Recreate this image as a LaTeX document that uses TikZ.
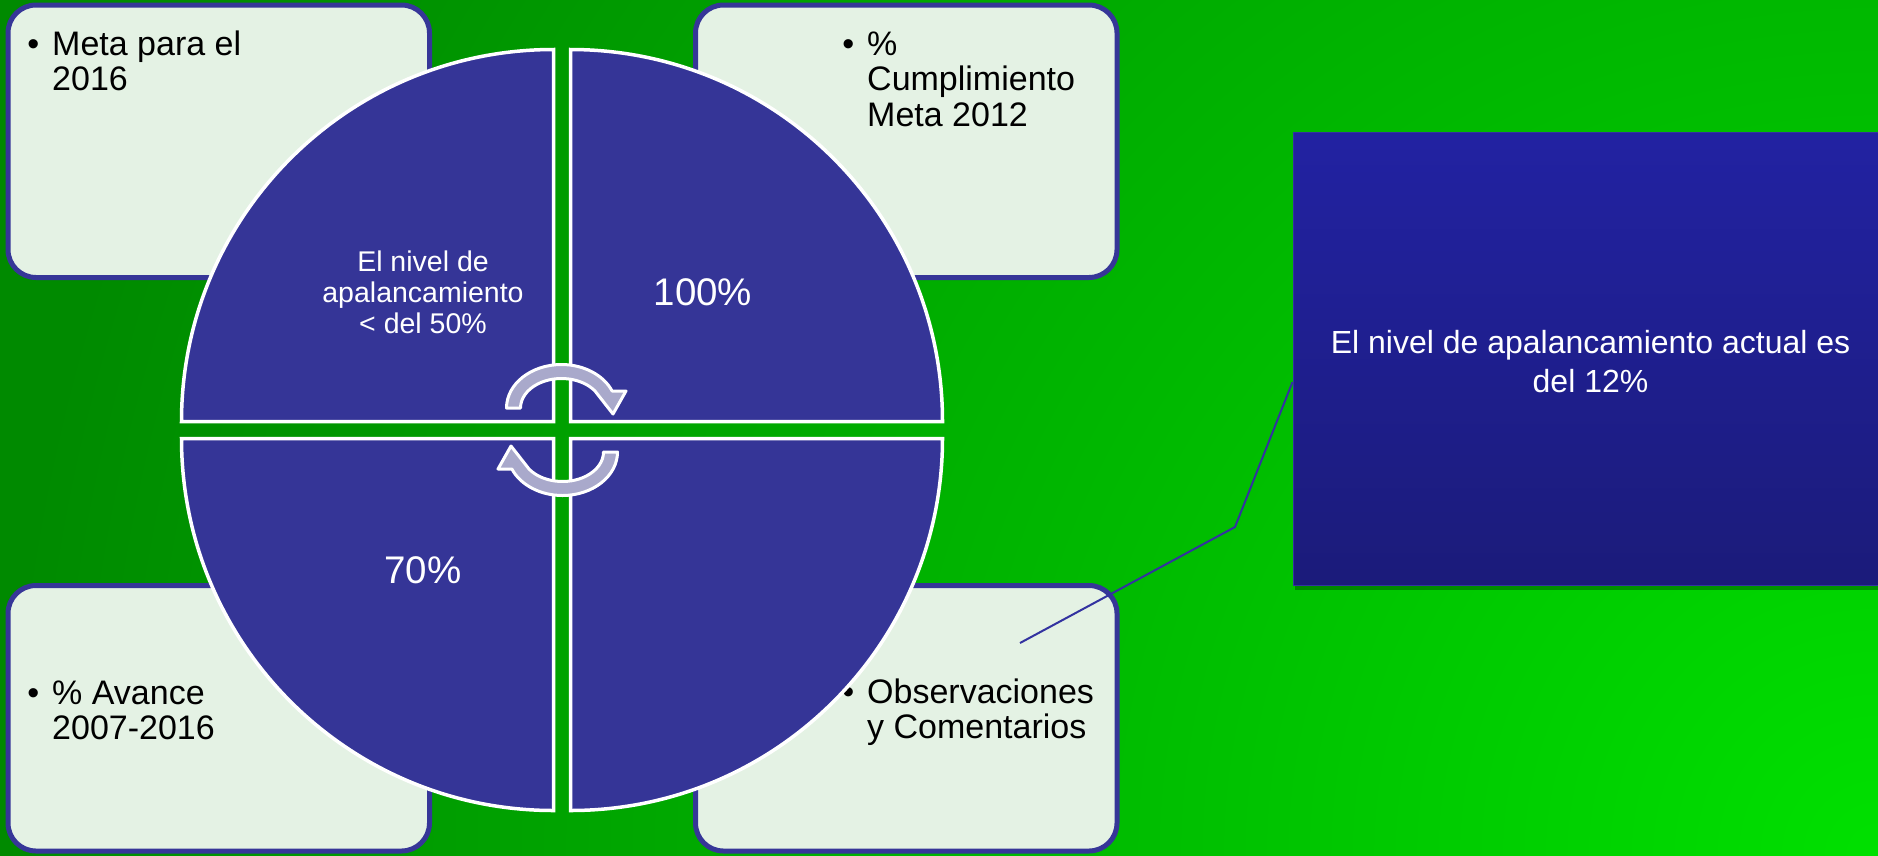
\documentclass[tikz,border=0pt]{standalone}
\usepackage{fontspec}
\setmainfont{Liberation Sans}
\definecolor{quad}{RGB}{53,53,151}
\definecolor{boxfill}{RGB}{228,242,228}
\definecolor{boxedge}{RGB}{54,54,152}
\definecolor{arrowfill}{RGB}{169,169,203}
\definecolor{bgC}{RGB}{0,224,0}
\definecolor{bgM}{RGB}{0,184,0}
\definecolor{bgO}{RGB}{0,138,0}
\definecolor{calTop}{RGB}{34,34,162}
\definecolor{calBot}{RGB}{27,27,122}
\definecolor{calLine}{RGB}{51,51,160}
\pgfdeclareradialshading{bgrad}{\pgfpoint{0bp}{0bp}}{color(0bp)=(bgC); color(855bp)=(bgM); color(1870bp)=(bgO); color(2200bp)=(bgO)}
\tikzset{
  infobox/.style={draw=boxedge, line width=5pt, fill=boxfill, rounded corners=28pt, minimum width=421.5pt, inner sep=0pt},
  boxtext/.style={anchor=base, inner sep=0pt, text=black, font=\fontsize{34}{35.5}\selectfont},
  quadrant/.style={fill=quad, draw=white, line width=3.5pt},
  cyclearrow/.style={fill=arrowfill, draw=white, line width=3pt, line join=round},
  circtext/.style={anchor=base, inner sep=0pt, text=white, font=\fontsize{28.5}{31}\selectfont},
  bigtext/.style={anchor=base, inner sep=0pt, text=white, font=\fontsize{38.5}{42}\selectfont},
  calloutbox/.style={draw=calLine, line width=1pt, top color=calTop, bottom color=calBot, minimum width=587pt, minimum height=453pt, inner sep=0pt},
  caltext/.style={anchor=base, inner sep=0pt, text=white, font=\fontsize{32}{39}\selectfont},
  calline/.style={draw=calLine, line width=2pt}
}
\newcommand{\bulletmark}{\leavevmode\llap{\textbullet\hspace{13pt}}}
\begin{document}
\begin{tikzpicture}[x=1pt,y=-1pt]
\useasboundingbox (0,0) rectangle (1878,855);
% background
\begin{scope}
  \clip (0,0) rectangle (1878,855);
  \node[inner sep=0pt, outer sep=0pt] (bg) at (1878,855) {\pgfuseshading{bgrad}};
\end{scope}
% boxes
\node[infobox, minimum height=272.5pt] (b1) at (218.75,141.25) {};
\node[infobox, minimum height=272.5pt] (b2) at (906.25,141.25) {};
\node[infobox, minimum height=265.5pt] (b3) at (218.75,718.25) {};
\node[infobox, minimum height=265.5pt] (b4) at (906.25,718.25) {};
% box texts
\node[boxtext, anchor=base west] (t1) at (52,55) {\parbox[t]{360pt}{\raggedright\bulletmark Meta para el\\2016}};
\node[boxtext, anchor=base west] (t2) at (867,55) {\parbox[t]{240pt}{\raggedright\bulletmark\%\\Cumplimiento\\Meta 2012}};
\node[boxtext, anchor=base west] (t3) at (52,704) {\parbox[t]{360pt}{\raggedright\bulletmark\% Avance\\2007-2016}};
\node[boxtext, anchor=base west] (t4) at (867,703) {\parbox[t]{240pt}{\raggedright\bulletmark Observaciones\\y Comentarios}};
% quadrants
\draw[quadrant] (553.5,421.5) -- (181.5,421.5) arc[start angle=180, end angle=270, radius=372] -- cycle;
\draw[quadrant] (570.5,421.5) -- (570.5,49.5) arc[start angle=270, end angle=360, radius=372] -- cycle;
\draw[quadrant] (570.5,438.5) -- (942.5,438.5) arc[start angle=0, end angle=90, radius=372] -- cycle;
\draw[quadrant] (553.5,438.5) -- (553.5,810.5) arc[start angle=90, end angle=180, radius=372] -- cycle;
% cycle arrows
\draw[cyclearrow] (506.5,408) arc[start angle=180, end angle=337, x radius=55, y radius=43.5] -- (626,391) -- (613,414) -- (595,391) arc[start angle=324.8, end angle=180, x radius=41, y radius=29.5] -- cycle;
\begin{scope}[rotate around={180:(562,430)}]
\draw[cyclearrow] (506.5,408) arc[start angle=180, end angle=337, x radius=55, y radius=43.5] -- (626,391) -- (613,414) -- (595,391) arc[start angle=324.8, end angle=180, x radius=41, y radius=29.5] -- cycle;
\end{scope}
% circle texts
\node[circtext] (q1) at (423,271) {\parbox[t]{260pt}{\centering El nivel de\\apalancamiento\\< del 50\%}};
\node[bigtext] (q2) at (703,305) {100\%};
\node[bigtext] (q3) at (423,583) {70\%};
% callout
\fill[black, opacity=0.3] (1295,137) rectangle (1880,590);
\node[calloutbox] (cal) at (1586.5,358.5) {};
\coordinate (cbend) at (1235,527);
\coordinate (ctip) at (1020,643);
\draw[calline] ([yshift=-23.5pt]cal.west) -- (cbend) -- (ctip);
\node[caltext] (calt) at (1590.5,353) {\parbox[t]{580pt}{\centering El nivel de apalancamiento actual es\\del 12\%}};
\end{tikzpicture}
\end{document}
